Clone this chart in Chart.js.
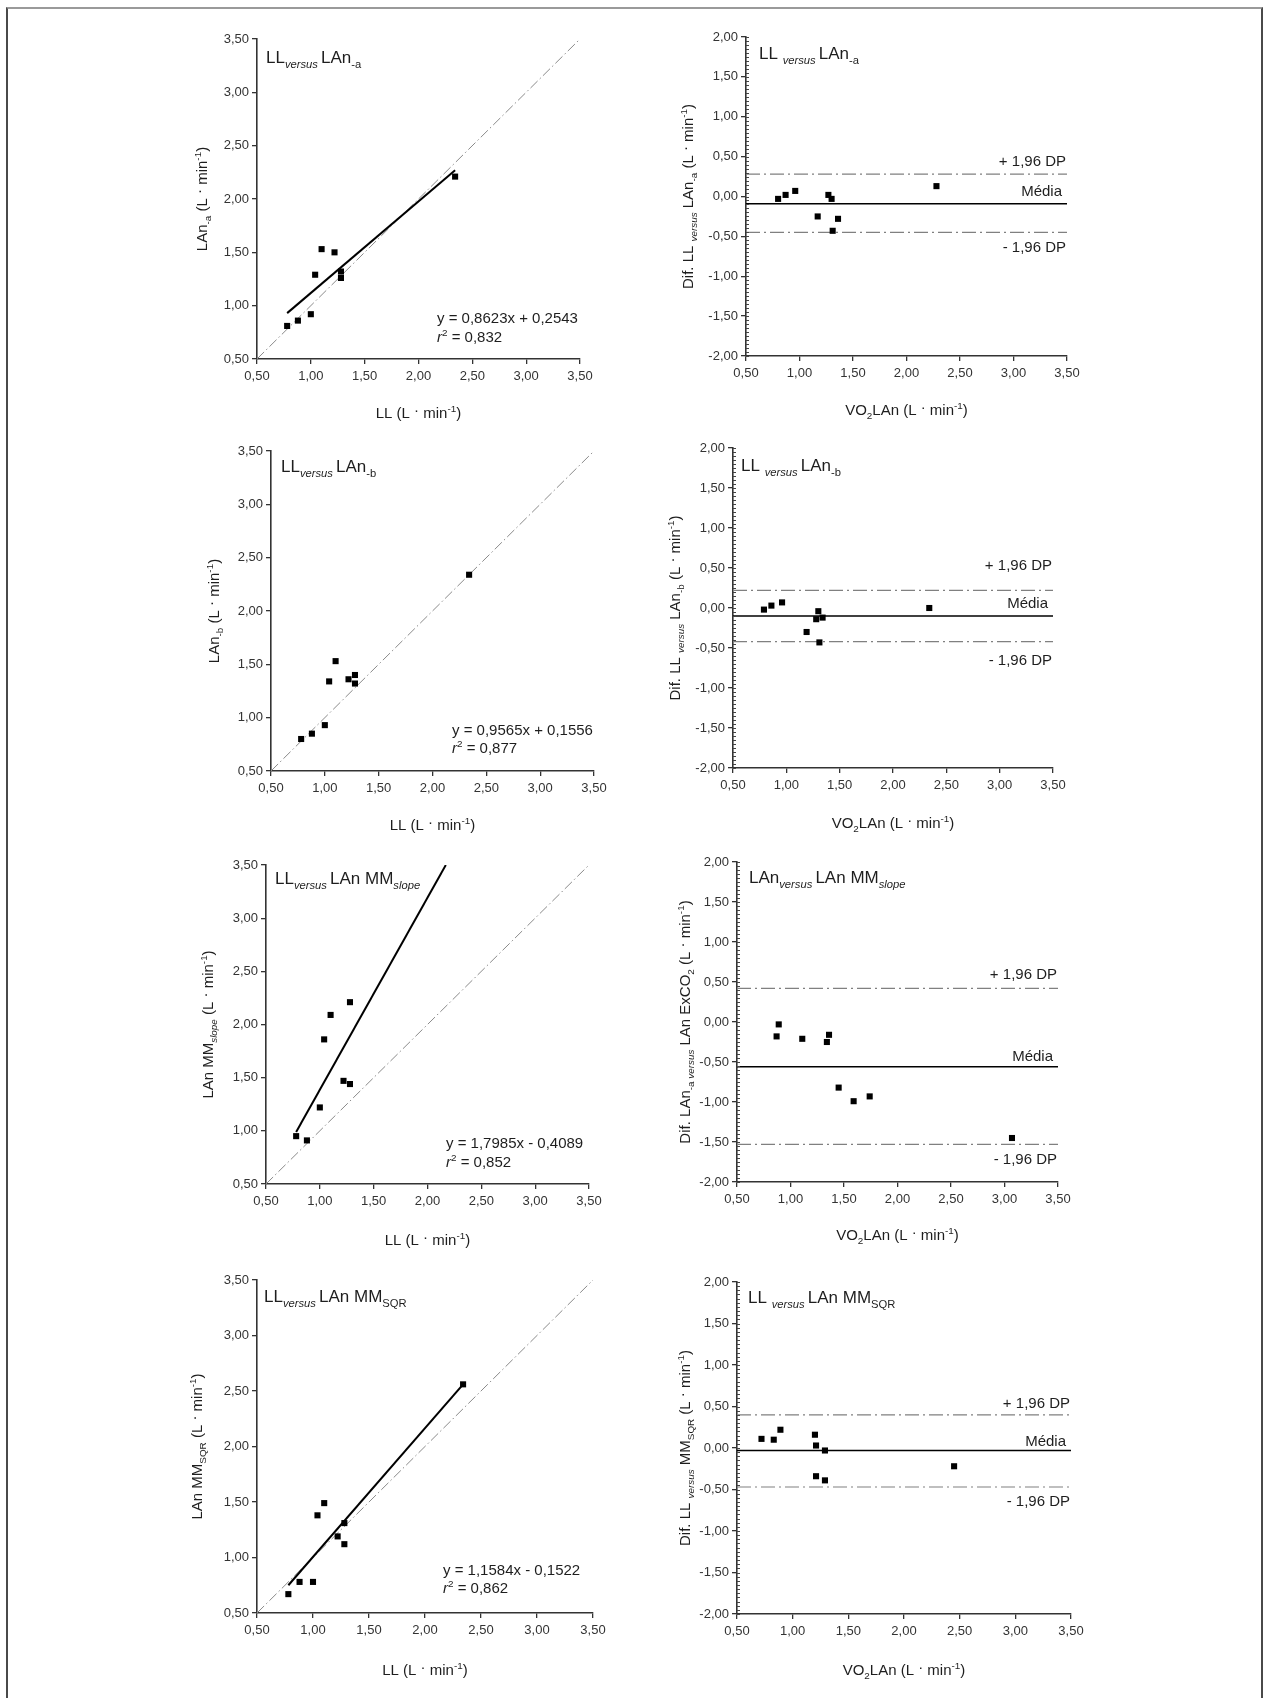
<!DOCTYPE html>
<html>
<head>
<meta charset="utf-8">
<script src="https://cdn.jsdelivr.net/npm/chart.js@4.4.1/dist/chart.umd.min.js"></script>
<style>
  body { margin: 0; background: #fff; width: 1267px; height: 1698px; overflow: hidden; position: relative; }
  #frame { position: absolute; left: 6px; top: 7px; width: 1253px; height: 1730px; border: 2px solid #4a4a4a; border-top-color: #9a9a9a; }
  canvas { position: absolute; }
</style>
</head>
<body>
<div id="frame"></div>
<script>
// ---- values ----
const llValues   = [0.78, 0.88, 1.00, 1.04, 1.10, 1.22, 1.28, 1.28, 2.34];
const lanA       = [0.81, 0.86, 0.92, 1.29, 1.53, 1.50, 1.32, 1.26, 2.21];
const lanB       = [0.80, 0.85, 0.93, 1.34, 1.53, 1.36, 1.40, 1.32, 2.34];
const llSlope    = [0.78, 0.88, 1.00, 1.04, 1.10, 1.22, 1.28, 1.28];
const mmSlope    = [0.95, 0.91, 1.22, 1.86, 2.09, 1.47, 1.44, 2.21];
const mmSqr      = [0.67, 0.78, 0.78, 1.38, 1.49, 1.19, 1.31, 1.12, 2.56];

const fitA       = [[0.78, 0.93], [2.34, 2.27]];
const fitSlope   = [[0.78, 0.99], [2.17, 3.50]];
const fitSqr     = [[0.78, 0.75], [2.34, 2.56]];
const identity   = [[0.5, 0.5], [3.5, 3.5]];

const baAx = [0.80, 0.87, 0.96, 1.17, 1.27, 1.30, 1.31, 1.36, 2.28];
const baAy = [-0.03, 0.02, 0.07, -0.25, 0.02, -0.03, -0.43, -0.28, 0.13];
const baALimits = [0.28, -0.09, -0.45];   // +1,96 DP, média, -1,96 DP

const baBx = [0.79, 0.86, 0.96, 1.19, 1.28, 1.30, 1.31, 1.34, 2.34];
const baBy = [-0.02, 0.03, 0.07, -0.30, -0.14, -0.04, -0.43, -0.12, 0.00];
const baBLimits = [0.22, -0.10, -0.42];

const baSlopeX = [0.87, 0.89, 1.11, 1.34, 1.36, 1.45, 1.59, 1.74, 3.07];
const baSlopeY = [-0.18, -0.03, -0.21, -0.25, -0.16, -0.82, -0.99, -0.93, -1.45];
const baSlopeLimits = [0.42, -0.56, -1.53];

const baSqrX = [0.72, 0.83, 0.89, 1.20, 1.21, 1.29, 1.21, 1.29, 2.45];
const baSqrY = [0.11, 0.10, 0.22, 0.16, 0.03, -0.03, -0.34, -0.39, -0.22];
const baSqrLimits = [0.40, -0.03, -0.47];

const xTicks = [0.5, 3.5];
const scatterYRange = [0.5, 3.5];
const baYRange = [-2, 2];

// ---- drawing helpers ----
const FONT = '"Liberation Sans", Arial, sans-serif';
const ML = 100, MT = 20, MR = 35, MB = 75;

const T = t => ({ t });
const sub = t => ({ t, sub: true });
const subI = t => ({ t, sub: true, it: true });
const sup = t => ({ t, sup: true });
const unit = [T(' (L '), { t: '·', dy: -3 }, T(' min'), sup('-1'), T(')')];

function drawRich(ctx, segs, x, y, size, align, rotate) {
  ctx.save();
  ctx.translate(x, y);
  if (rotate) ctx.rotate(-Math.PI / 2);
  const parts = segs.map(s => {
    const fs = (s.sub || s.sup) ? size * 0.66 : size;
    const font = (s.it ? 'italic ' : '') + fs + 'px ' + FONT;
    ctx.font = font;
    return { t: s.t, font, w: ctx.measureText(s.t).width, dy: s.sub ? size * 0.28 : s.sup ? -size * 0.42 : (s.dy || 0) };
  });
  const total = parts.reduce((a, p) => a + p.w, 0);
  let cx = align === 'center' ? -total / 2 : align === 'right' ? -total : 0;
  ctx.fillStyle = '#1e1e1e';
  ctx.textAlign = 'left';
  ctx.textBaseline = 'alphabetic';
  for (const p of parts) {
    ctx.font = p.font;
    ctx.fillText(p.t, cx, p.dy);
    cx += p.w;
  }
  ctx.restore();
}

const fmt = v => v.toFixed(2).replace('.', ',');
const pts = (xs, ys) => xs.map((x, i) => ({ x, y: ys[i] }));
const seg = a => a.map(([x, y]) => ({ x, y }));

const pointSet = data => ({ data, pointStyle: 'rect', pointRadius: 4.3, backgroundColor: '#000', borderWidth: 0, order: 0 });
const lineSet = (data, color, width, dash) => ({
  data, showLine: true, pointRadius: 0, borderColor: color, borderWidth: width, borderDash: dash || [], order: 1
});
const hLine = v => [{ x: xTicks[0], y: v }, { x: xTicks[1], y: v }];

function makePanel(p) {
  const c = document.createElement('canvas');
  const w = p.area[2] - p.area[0], h = p.area[3] - p.area[1];
  c.width = w + ML + MR;
  c.height = h + MT + MB;
  c.style.left = (p.area[0] - ML) + 'px';
  c.style.top = (p.area[1] - MT) + 'px';
  document.body.appendChild(c);

  const datasets = [pointSet(p.points)];
  if (p.ba) {
    datasets.push(lineSet(hLine(p.ba[1]), '#000', 1.6));
    datasets.push(lineSet(hLine(p.ba[0]), '#808080', 1.2, [14, 4, 2, 4]));
    datasets.push(lineSet(hLine(p.ba[2]), '#808080', 1.2, [14, 4, 2, 4]));
  } else {
    if (p.fit) datasets.push(lineSet(seg(p.fit), '#000', 2));
    datasets.push(lineSet(seg(identity), '#8a8a8a', 1, [10, 3, 1.5, 3]));
  }

  const range = p.ba ? baYRange : scatterYRange;
  const tickFont = { family: FONT, size: 13 };

  new Chart(c, {
    type: 'scatter',
    data: { datasets },
    options: {
      responsive: false,
      animation: false,
      events: [],
      layout: { padding: { top: MT, right: MR, left: 0, bottom: 0 } },
      plugins: { legend: { display: false }, tooltip: { enabled: false } },
      scales: {
        x: {
          type: 'linear', min: xTicks[0], max: xTicks[1],
          ticks: { stepSize: 0.5, callback: fmt, font: tickFont, color: '#333', padding: 5, maxRotation: 0 },
          grid: { drawOnChartArea: false, drawTicks: true, tickLength: 5, color: '#333', lineWidth: 1.3 },
          border: { color: '#333', width: 1.6 },
          afterFit: s => { s.height = MB; }
        },
        y: {
          type: 'linear', min: range[0], max: range[1],
          ticks: { stepSize: 0.5, callback: fmt, font: tickFont, color: '#333', padding: 3 },
          grid: { drawOnChartArea: false, drawTicks: true, tickLength: 5, color: '#333', lineWidth: 1.3 },
          border: { color: '#333', width: 1.6 },
          afterFit: s => { s.width = ML; }
        }
      }
    },
    plugins: [{
      id: 'panelText',
      afterDraw(chart) {
        const ctx = chart.ctx, a = chart.chartArea, ys = chart.scales.y;
        if (p.ba) {
          // minor ticks on the difference axis
          ctx.save();
          ctx.strokeStyle = '#444';
          ctx.lineWidth = 1;
          for (let i = -40; i <= 40; i++) {
            const y = Math.round(ys.getPixelForValue(i * 0.05)) + 0.5;
            ctx.beginPath();
            ctx.moveTo(a.left, y);
            ctx.lineTo(a.left + 3, y);
            ctx.stroke();
          }
          ctx.restore();
          const names = ['+ 1,96 DP', 'Média', '- 1,96 DP'];
          names.forEach((n, i) => {
            drawRich(ctx, [T(n)], a.right - (i === 1 ? 5 : 1), ys.getPixelForValue(p.ba[i]) + p.labelDy[i], 15, 'right');
          });
        }
        drawRich(ctx, p.title, a.left + p.titleD[0], a.top + p.titleD[1], 17, 'left');
        drawRich(ctx, p.xTitle, (a.left + a.right) / 2, a.bottom + p.xTitleDy, 15, 'center');
        drawRich(ctx, p.yTitle, a.left + p.yTitleDx, (a.top + a.bottom) / 2, 15, 'center', true);
        if (p.eq) {
          drawRich(ctx, [T('y = ' + p.eq[0])], a.left + p.eqD[0], a.bottom + p.eqD[1], 15, 'left');
          drawRich(ctx, [{ t: 'r', it: true }, sup('2'), T(' = ' + p.eq[1])], a.left + p.eqD[0], a.bottom + p.eqD[2], 15, 'left');
        }
      }
    }]
  });
}

const llTitle = [T('LL'), ...unit];
const vo2Title = [T('VO'), sub('2'), T('LAn'), ...unit];

const panels = [
  { area: [257, 39, 580, 359], points: pts(llValues, lanA), fit: fitA,
    title: [T('LL'), subI('versus '), T('LAn'), sub('-a')], titleD: [9, 24],
    yTitle: [T('LAn'), sub('-a'), ...unit], yTitleDx: -50, xTitle: llTitle, xTitleDy: 59,
    eq: ['0,8623x + 0,2543', '0,832'], eqD: [180, -36, -17] },
  { area: [746, 37, 1067, 356], points: pts(baAx, baAy), ba: baALimits, labelDy: [-8.5, -8, 20],
    title: [T('LL '), subI('versus '), T('LAn'), sub('-a')], titleD: [13, 22],
    yTitle: [T('Dif. LL '), subI('versus'), T(' LAn'), sub('-a'), ...unit], yTitleDx: -53, xTitle: vo2Title, xTitleDy: 59 },
  { area: [271, 451, 594, 771], points: pts(llValues, lanB),
    title: [T('LL'), subI('versus '), T('LAn'), sub('-b')], titleD: [10, 21],
    yTitle: [T('LAn'), sub('-b'), ...unit], yTitleDx: -52, xTitle: llTitle, xTitleDy: 59,
    eq: ['0,9565x + 0,1556', '0,877'], eqD: [181, -36, -18] },
  { area: [733, 448, 1053, 768], points: pts(baBx, baBy), ba: baBLimits, labelDy: [-20, -8, 23],
    title: [T('LL '), subI('versus '), T('LAn'), sub('-b')], titleD: [8, 23],
    yTitle: [T('Dif. LL '), subI('versus'), T(' LAn'), sub('-b'), ...unit], yTitleDx: -53, xTitle: vo2Title, xTitleDy: 60 },
  { area: [266, 865, 589, 1184], points: pts(llSlope, mmSlope), fit: fitSlope,
    title: [T('LL'), subI('versus '), T('LAn MM'), subI('slope')], titleD: [9, 19],
    yTitle: [T('LAn MM'), subI('slope'), ...unit], yTitleDx: -53, xTitle: llTitle, xTitleDy: 61,
    eq: ['1,7985x - 0,4089', '0,852'], eqD: [180, -36, -17] },
  { area: [737, 862, 1058, 1182], points: pts(baSlopeX, baSlopeY), ba: baSlopeLimits, labelDy: [-9.5, -5.5, 20],
    title: [T('LAn'), subI('versus '), T('LAn MM'), subI('slope')], titleD: [12, 21],
    yTitle: [T('Dif. LAn'), sub('-a'), subI(' versus'), T(' LAn ExCO'), sub('2'), ...unit], yTitleDx: -47, xTitle: vo2Title, xTitleDy: 58 },
  { area: [257, 1280, 593, 1613], points: pts(llValues, mmSqr), fit: fitSqr,
    title: [T('LL'), subI('versus '), T('LAn MM'), sub('SQR')], titleD: [7, 22],
    yTitle: [T('LAn MM'), sub('SQR'), ...unit], yTitleDx: -55, xTitle: llTitle, xTitleDy: 62,
    eq: ['1,1584x - 0,1522', '0,862'], eqD: [186, -38, -20] },
  { area: [737, 1282, 1071, 1614], points: pts(baSqrX, baSqrY), ba: baSqrLimits, labelDy: [-6.5, -4, 19],
    title: [T('LL '), subI('versus '), T('LAn MM'), sub('SQR')], titleD: [11, 21],
    yTitle: [T('Dif. LL '), subI('versus'), T(' MM'), sub('SQR'), ...unit], yTitleDx: -47, xTitle: vo2Title, xTitleDy: 61 }
];

panels.forEach(makePanel);
</script>
</body>
</html>
